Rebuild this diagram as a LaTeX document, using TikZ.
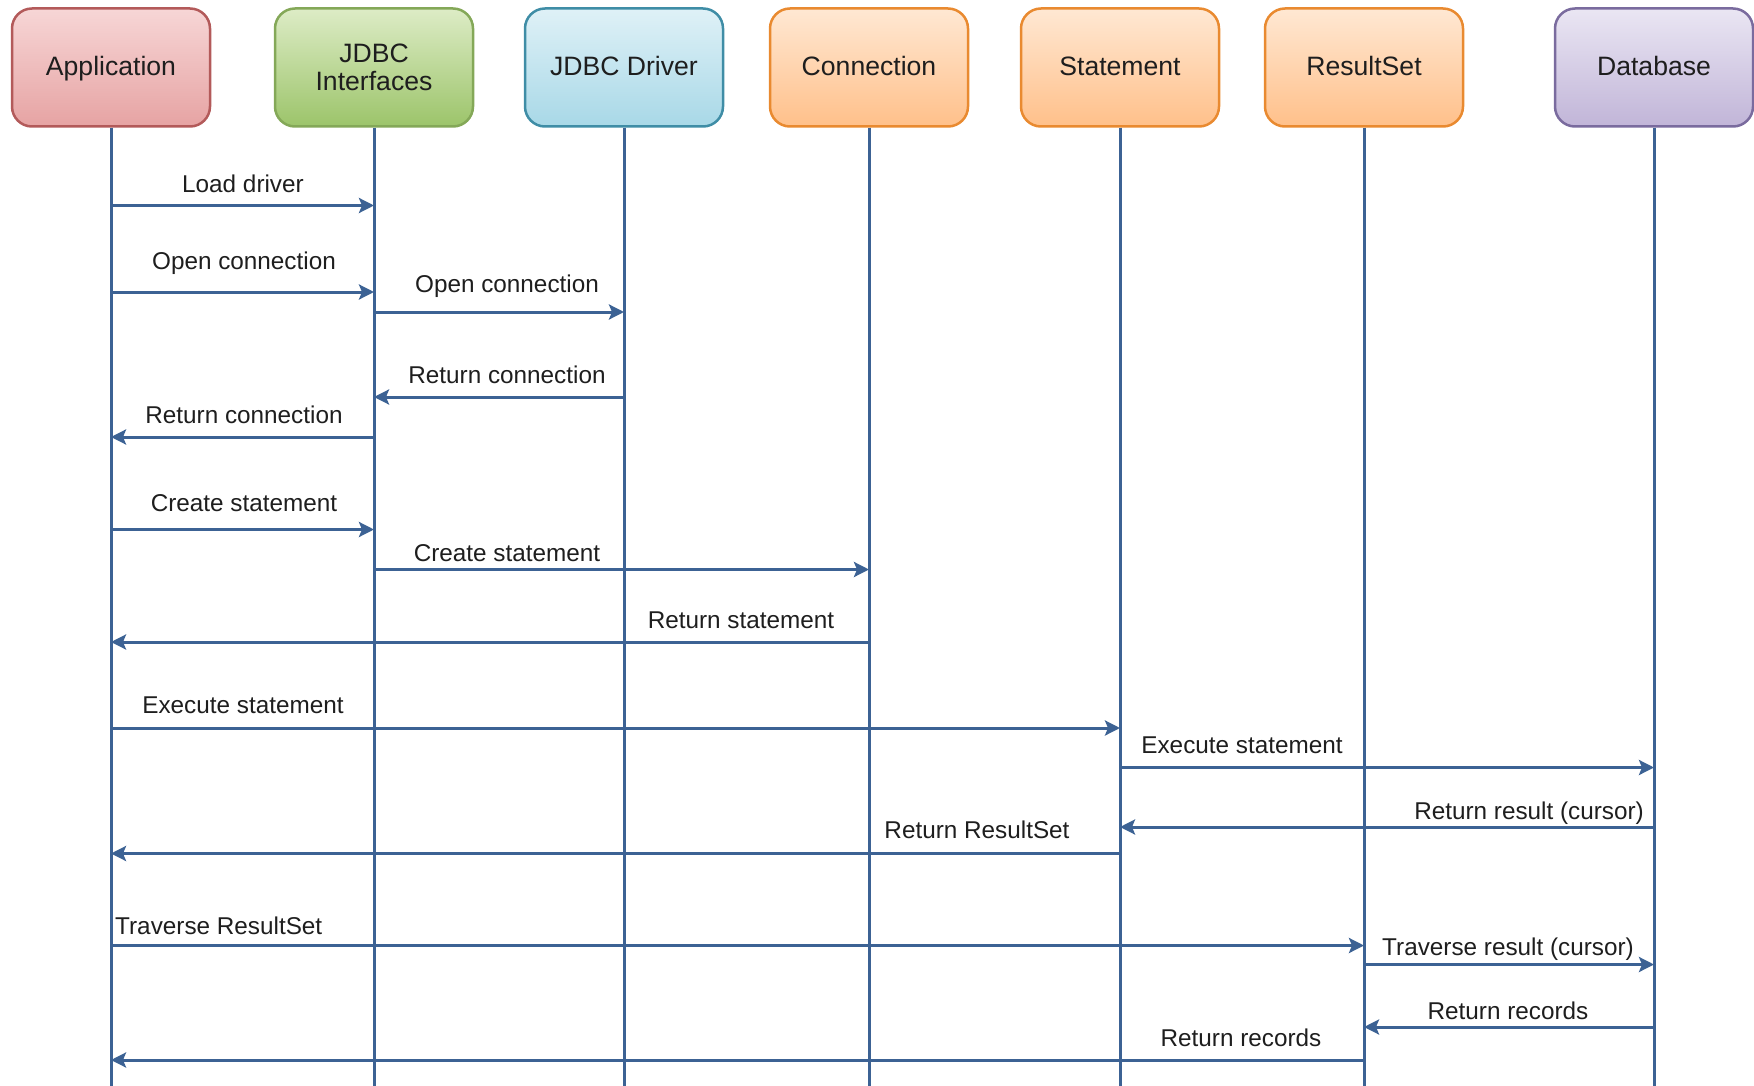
\documentclass[tikz,border=0pt]{standalone}
\usepackage{fontspec}
\setmainfont{Liberation Sans}
\usetikzlibrary{arrows.meta}

% line and box colours
\definecolor{wire}{RGB}{60,98,148}
\definecolor{ink}{RGB}{30,30,30}
\definecolor{appTop}{HTML}{F7D6D6}\definecolor{appBot}{HTML}{E6A3A3}\definecolor{appLine}{HTML}{B35A5A}
\definecolor{ifTop}{HTML}{DDECC6}\definecolor{ifBot}{HTML}{9CC46A}\definecolor{ifLine}{HTML}{84A858}
\definecolor{drvTop}{HTML}{DFF1F7}\definecolor{drvBot}{HTML}{A8D8E7}\definecolor{drvLine}{HTML}{3F8DA6}
\definecolor{orgTop}{HTML}{FFE8D3}\definecolor{orgBot}{HTML}{FFC08A}\definecolor{orgLine}{HTML}{E98A30}
\definecolor{dbTop}{HTML}{EAE6F3}\definecolor{dbBot}{HTML}{C1B5D8}\definecolor{dbLine}{HTML}{7A6B9E}

% one-line header text with a fixed height and depth
\newcommand\hdtext[1]{\rule[-3pt]{0pt}{22pt}\smash{#1}}

\begin{document}
\begin{tikzpicture}[x=1pt,y=-1pt,
  head/.style={rounded corners=20pt, minimum width=198pt, minimum height=118pt,
    line width=2.5pt, align=center, inner sep=0pt, text=ink,
    font=\fontsize{26.6}{29}\selectfont},
  life/.style={draw=wire, line width=3pt},
  msg/.style={draw=wire, line width=3pt,
    -{Stealth[length=15pt,width=15pt,inset=3pt]}},
  lbl/.style={font=\fontsize{24.3}{28}\selectfont, text=ink, inner sep=0pt}]
\useasboundingbox (0,0) rectangle (1754,1086);

% participants
\node[head, draw=appLine, top color=appTop, bottom color=appBot] (app) at (111,67.5) {\hdtext{Application}};
\node[head, draw=ifLine,  top color=ifTop,  bottom color=ifBot]  (jif) at (374,67.5) {JDBC\\[-1pt]Interfaces};
\node[head, draw=drvLine, top color=drvTop, bottom color=drvBot] (drv) at (624,67.5) {\hdtext{JDBC Driver}};
\node[head, draw=orgLine, top color=orgTop, bottom color=orgBot] (con) at (869,67.5) {\hdtext{Connection}};
\node[head, draw=orgLine, top color=orgTop, bottom color=orgBot] (stm) at (1120,67.5) {\hdtext{Statement}};
\node[head, draw=orgLine, top color=orgTop, bottom color=orgBot] (rs)  at (1364,67.5) {\hdtext{ResultSet}};
\node[head, draw=dbLine,  top color=dbTop,  bottom color=dbBot]  (db)  at (1654,67.5) {\hdtext{Database}};

% lifelines
\foreach \p in {app,jif,drv,con,stm,rs,db}
  \draw[life] (\p.south) -- (\p.south |- 0,1086);

% messages: from lifeline to lifeline at a given height
\newcommand\seqmsg[3]{\draw[msg] (#1 |- 0,#3) -- (#2 |- 0,#3);}
\seqmsg{app}{jif}{205.5}
\seqmsg{app}{jif}{292}
\seqmsg{jif}{drv}{312}
\seqmsg{drv}{jif}{397}
\seqmsg{jif}{app}{437}
\seqmsg{app}{jif}{529.5}
\seqmsg{jif}{con}{569.5}
\seqmsg{con}{app}{642}
\seqmsg{app}{stm}{728}
\seqmsg{stm}{db}{767.5}
\seqmsg{db}{stm}{827}
\seqmsg{stm}{app}{853.5}
\seqmsg{app}{rs}{945.5}
\seqmsg{rs}{db}{964.5}
\seqmsg{db}{rs}{1027}
\seqmsg{rs}{app}{1060}

% message labels
\node[lbl] (m1)  at (243,183.5) {Load driver};
\node[lbl] (m2)  at (244,263)   {Open connection};
\node[lbl] (m3)  at (507,286)   {Open connection};
\node[lbl] (m4)  at (507,375)   {Return connection};
\node[lbl] (m5)  at (244,415)   {Return connection};
\node[lbl] (m6)  at (244,503.5) {Create statement};
\node[lbl] (m7)  at (507,553.5) {Create statement};
\node[lbl] (m8)  at (741,620)   {Return statement};
\node[lbl] (m9)  at (243,705)   {Execute statement};
\node[lbl] (m10) at (1242,745)  {Execute statement};
\node[lbl, anchor=east] (m11) at (1644,813) {Return result (cursor)};
\node[lbl] (m12) at (977,830)   {Return ResultSet};
\node[lbl, anchor=west] (m13) at (115,926) {Traverse ResultSet};
\node[lbl] (m14) at (1508,949)  {Traverse result (cursor)};
\node[lbl] (m15) at (1508,1011) {Return records};
\node[lbl] (m16) at (1241,1038) {Return records};
\end{tikzpicture}
\end{document}
